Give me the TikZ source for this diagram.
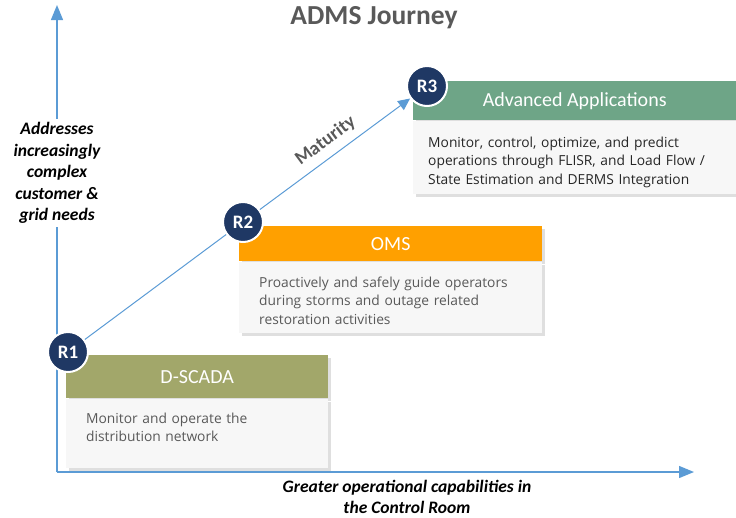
\documentclass[tikz,border=0pt]{standalone}
\usepackage{fontspec}
\setmainfont{Carlito}
\newfontfamily\bodyfont{Open Sans}
\usetikzlibrary{arrows.meta,shadows}

\definecolor{axisblue}{HTML}{5B9BD5}
\definecolor{navy}{HTML}{1F3864}
\definecolor{scadagreen}{HTML}{A2A76A}
\definecolor{omsorange}{HTML}{FFA000}
\definecolor{appsgreen}{HTML}{6EA587}
\definecolor{bodygray}{HTML}{F7F7F7}
\definecolor{textgray}{HTML}{595959}
\definecolor{darktext}{HTML}{262626}

\tikzset{
    axis/.style={axisblue,line width=1.3pt,-{Triangle[length=15pt,width=12pt]}},
    maturity/.style={axisblue,line width=1pt},
    axislabel/.style={align=center,font=\bfseries\itshape\fontsize{17.5}{21.5}\selectfont},
    header/.style={anchor=north west,inner sep=0pt,text=white,
        font=\fontsize{20}{24}\selectfont,
        drop shadow={shadow xshift=3pt,shadow yshift=-3pt,opacity=0.25}},
    body/.style={anchor=north west,fill=bodygray,inner sep=0pt,
        drop shadow={shadow xshift=3pt,shadow yshift=-3pt,opacity=0.25}},
    bodytext/.style={anchor=north west,inner sep=0pt,align=left,text=textgray,
        font=\bodyfont\fontsize{13.8}{18.5}\selectfont},
    rnode/.style={circle,fill=navy,draw=white,line width=2pt,minimum size=40pt,
        inner sep=0pt,text=white,font=\bfseries\fontsize{19}{22}\selectfont}
}

\begin{document}
\begin{tikzpicture}[x=1pt,y=-1pt]
    \useasboundingbox (0,0) rectangle (736,517);

    \node[text=textgray,font=\bfseries\fontsize{27.5}{32}\selectfont] (title) at (374,18) {ADMS Journey};

    \coordinate (origin) at (57,472);
    \coordinate (ytip) at (57,5);
    \coordinate (xtip) at (694,472);
    \draw[axis] (origin) -- (ytip);
    \draw[axis] (origin) -- (xtip);

    \node[axislabel,fill=white] (ylabel) at (57,173) {Addresses\\increasingly\\complex\\customer \&\\grid needs};
    \node[axislabel] (xlabel) at (407,497) {Greater operational capabilities in\\the Control Room};

    \node[header,fill=scadagreen,minimum width=262pt,minimum height=43pt] (scada) at (66,355) {D-SCADA};
    \node[body,minimum width=262pt,minimum height=69pt] (scadabody) at (scada.south west) {};
    \node[bodytext,text width=230pt] (scadatext) at ([xshift=20pt,yshift=-14pt]scadabody.north west)
        {Monitor and operate the\\distribution network};

    \node[header,fill=omsorange,minimum width=303pt,minimum height=35pt] (oms) at (239,226) {OMS};
    \node[body,minimum width=303pt,minimum height=71pt] (omsbody) at (oms.south west) {};
    \node[bodytext,text width=270pt] (omstext) at ([xshift=20pt,yshift=-15pt]omsbody.north west)
        {Proactively and safely guide operators\\during storms and outage related\\restoration activities};

    \node[header,fill=appsgreen,minimum width=323pt,minimum height=39pt] (apps) at (413,81) {Advanced Applications};
    \node[body,minimum width=323pt,minimum height=73pt] (appsbody) at (apps.south west) {};
    \node[bodytext,text width=300pt,text=darktext] (appstext) at ([xshift=15pt,yshift=-16pt]appsbody.north west)
        {Monitor, control, optimize, and predict\\operations through FLISR, and Load Flow /\\State Estimation and DERMS Integration};

    \node[rnode] (r1) at (68,352) {R1};
    \node[rnode] (r2) at (243,222) {R2};
    \node[rnode] (r3) at (427,86) {R3};

    \draw[maturity] (r1) -- (r2);
    \draw[maturity,-{Triangle[length=12pt,width=11pt]}] (r2) -- node[sloped,above=4pt,text=textgray,
        font=\bfseries\fontsize{19}{22}\selectfont] (maturitylabel) {Maturity} (r3);
\end{tikzpicture}
\end{document}
